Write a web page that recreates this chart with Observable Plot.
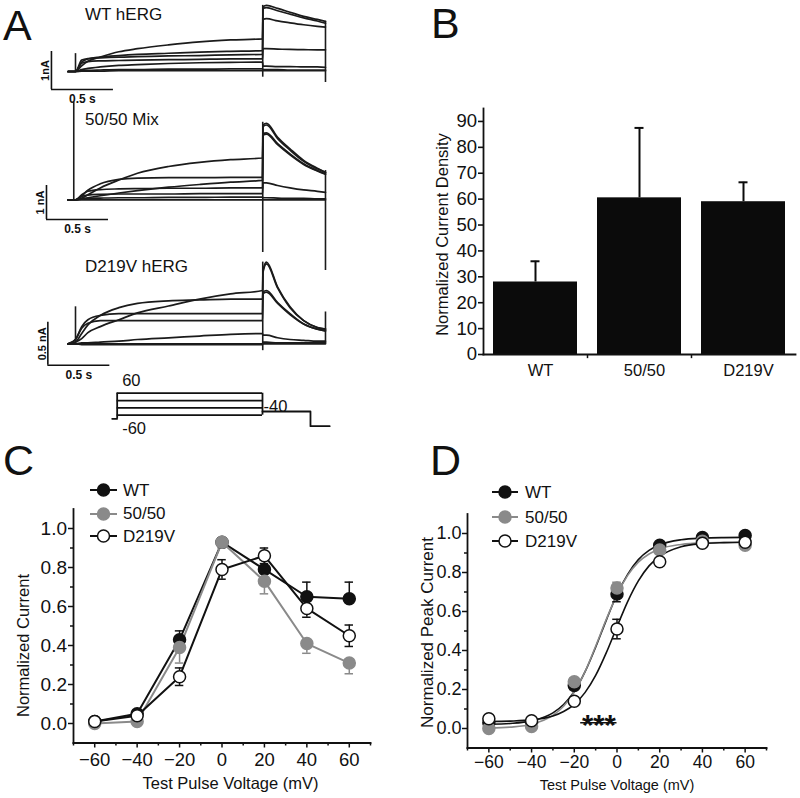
<!DOCTYPE html>
<html><head><meta charset="utf-8">
<script src="https://cdn.jsdelivr.net/npm/d3@7"></script>
<script src="https://cdn.jsdelivr.net/npm/@observablehq/plot@0.6"></script>
<style>
body{margin:0;background:#fff;}
#fig{position:relative;width:800px;height:798px;overflow:hidden;background:#fff;color:#111;font-family:"Liberation Sans",Arial,Helvetica,sans-serif;}
</style></head><body><div id="fig"></div>
<script>
// ---------------- DATA ----------------
// Panel A: current traces (time in s, current in nA)
const holdT = -0.06;
const stepT = [0, 0.05, 0.1, 0.2, 0.35, 0.5, 0.75, 1.0, 1.25, 1.508];
const tailT = [1.512, 1.54, 1.63, 1.73, 1.84, 1.95, 2.016];

const wtStep = [
  [0,0.15,0.27,0.38,0.52,0.60,0.70,0.78,0.83,0.86],
  [0,0.25,0.33,0.38,0.42,0.45,0.48,0.51,0.53,0.55],
  [0,0.30,0.34,0.36,0.38,0.39,0.41,0.42,0.44,0.45],
  [0,0.22,0.26,0.28,0.29,0.30,0.31,0.32,0.33,0.33],
  [0,0.05,0.08,0.12,0.16,0.18,0.21,0.23,0.24,0.25],
  [0,0.02,0.03,0.04,0.05,0.05,0.06,0.06,0.07,0.07],
  [0,0.01,0.01,0.01,0.02,0.02,0.02,0.02,0.02,0.02]
];
const wtTail = [
  [1.70,1.74,1.66,1.56,1.45,1.37,1.32],
  [1.66,1.68,1.60,1.51,1.41,1.33,1.27],
  [1.37,1.39,1.33,1.28,1.23,1.19,1.17],
  [0.60,0.60,0.59,0.58,0.575,0.57,0.57],
  [0.14,0.14,0.13,0.13,0.12,0.12,0.11],
  [0.05,0.05,0.05,0.04,0.04,0.04,0.04],
  [0.02,0.02,0.02,0.02,0.02,0.02,0.02]
];
const wtTrans = [{t:0, lo:0, hi:0.47}, {t:1.51, lo:-0.15, hi:1.74}, {t:2.016, lo:-0.29, hi:1.32}];
const wtBar = {t0:-0.194, i0:-0.474, dt:0.5, di:1, tLabel:"0.5 s", iLabel:"1nA"};

const mixStep = [
  [0,0.05,0.15,0.35,0.58,0.78,0.98,1.10,1.18,1.23],
  [0,0.12,0.28,0.47,0.60,0.64,0.65,0.65,0.66,0.66],
  [0,0.03,0.06,0.12,0.20,0.27,0.37,0.45,0.52,0.57],
  [0,0.15,0.25,0.30,0.32,0.33,0.34,0.34,0.35,0.35],
  [0,0.10,0.14,0.16,0.17,0.17,0.17,0.18,0.18,0.18],
  [0,0.02,0.04,0.05,0.06,0.06,0.07,0.07,0.08,0.08],
  [0,0,0,0,0,0,0,0,0,0]
];
const mixTail = [
  [2.20,2.25,1.84,1.50,1.16,0.93,0.81],
  [1.95,1.97,1.65,1.35,1.06,0.86,0.76],
  [2.15,2.20,1.80,1.46,1.13,0.91,0.80],
  [1.90,1.93,1.62,1.32,1.04,0.85,0.75],
  [0.50,0.50,0.42,0.35,0.29,0.25,0.22],
  [0.06,0.06,0.05,0.04,0.04,0.03,0.03],
  [0,0,0,0,0,0,0]
];
const mixTrans = [{t:-0.014, lo:0, hi:2.87}, {t:1.51, lo:-1.55, hi:2.28}, {t:2.016, lo:-2.08, hi:0.86}];
const mixBar = {t0:-0.234, i0:-0.58, dt:0.5, di:1, tLabel:"0.5 s", iLabel:"1 nA"};

const dvStep = [
  [0.02,0.06,0.13,0.20,0.28,0.36,0.44,0.52,0.58,0.62],
  [0.02,0.12,0.22,0.33,0.42,0.47,0.50,0.51,0.52,0.52],
  [0.05,0.20,0.28,0.33,0.35,0.35,0.35,0.35,0.35,0.35],
  [0.05,0.18,0.24,0.27,0.27,0.27,0.27,0.27,0.27,0.27],
  [0,0.01,0.01,0.02,0.03,0.05,0.07,0.09,0.11,0.12],
  [0,0,0,0,0,0,0,0,0,0],
  [0,-0.01,-0.01,-0.01,-0.01,-0.01,-0.01,-0.01,-0.01,-0.01]
];
const dvTail = [
  [0.85,0.95,0.66,0.43,0.27,0.19,0.17],
  [0.60,0.62,0.48,0.35,0.23,0.17,0.15],
  [0.83,0.93,0.65,0.42,0.27,0.19,0.17],
  [0.58,0.60,0.47,0.34,0.23,0.17,0.15],
  [0.10,0.10,0.07,0.05,0.04,0.03,0.03],
  [0.02,0.02,0.01,0.01,0.01,0.01,0.01],
  [0,0,0,0,0,0,0]
];
const dvTrans = [{t:0, lo:0, hi:0.43}, {t:1.51, lo:-0.08, hi:0.95}, {t:2.016, lo:0, hi:0.37}];
const dvBar = {t0:-0.223, i0:-0.25, dt:0.5, di:0.5, tLabel:"0.5 s", iLabel:"0.5 nA"};

// Voltage protocol (s, mV)
const protoTimes = [0.296, 0.336, 1.508, 1.895, 2.05]; // hold start, step on, step off, tail end, end
const protoLevels = [60, 20, -20, -60];
const protoHoldMV = -80, protoTailMV = -40, protoPostMV = -120;

// Panel B
const bCats = ["WT", "50/50", "D219V"];
const bMeans = [28, 60.5, 59];
const bErrs = [8, 27, 7.5];
const bTicks = [0,10,20,30,40,50,60,70,80,90];

// Panels C, D
const seriesNames = ["WT", "50/50", "D219V"];
const volts = [-60, -40, -20, 0, 20, 40, 60];
const cWT  = [0.01, 0.05, 0.43, 0.93, 0.79, 0.65, 0.64];
const cMix = [0.00, 0.01, 0.39, 0.93, 0.73, 0.41, 0.31];
const cDV  = [0.01, 0.04, 0.24, 0.79, 0.86, 0.59, 0.45];
const cWTerr  = [0.005, 0.01, 0.045, 0.02, 0.05, 0.075, 0.085];
const cMixErr = [0.005, 0.01, 0.08, 0.03, 0.065, 0.05, 0.055];
const cDVerr  = [0.01, 0.01, 0.045, 0.05, 0.04, 0.045, 0.055];
const cErrDir = ["up", "down", "both"];

const dWT  = [0.03, 0.03, 0.22, 0.69, 0.94, 0.98, 0.99];
const dMix = [0.00, 0.01, 0.24, 0.72, 0.915, 0.96, 0.94];
const dDV  = [0.05, 0.04, 0.14, 0.51, 0.855, 0.95, 0.955];
const dWTerr  = [0.01, 0.01, 0.02, 0.04, 0.01, 0.01, 0.01];
const dMixErr = [0.01, 0.01, 0.02, 0.03, 0.02, 0.01, 0.02];
const dDVerr  = [0.02, 0.01, 0.015, 0.05, 0.02, 0.02, 0.01];
const dErrDir = ["both", "both", "both"];

// Boltzmann fit curves
const fitV   = [-60,-50,-40,-30,-25,-20,-15,-10,-5,0,5,10,15,20,30,40,50,60];
const fitWT  = [0.022,0.026,0.039,0.08,0.123,0.19,0.29,0.417,0.556,0.687,0.79,0.866,0.913,0.942,0.968,0.976,0.979,0.98];
const fitMix = [0.002,0.007,0.022,0.067,0.114,0.187,0.291,0.422,0.56,0.687,0.785,0.853,0.895,0.921,0.944,0.952,0.954,0.955];
const fitDV  = [0.036,0.038,0.044,0.064,0.087,0.124,0.184,0.272,0.389,0.522,0.651,0.757,0.834,0.883,0.932,0.948,0.953,0.955];
const starAnn = [{x1:-17, x2:0, y:0.03, text:"***"}];

const xTicks = [-60,-40,-20,0,20,40,60];
const xMinor = [-70,-50,-30,-10,10,30,50,70];
const yTicks = [0,0.2,0.4,0.6,0.8,1.0];
const yMinor = [0.1,0.3,0.5,0.7,0.9];

// ---------------- STYLE / LAYOUT ----------------
const FONT = '"Liberation Sans", Arial, Helvetica, sans-serif';
const INK = "#111";
const GRAY = "#8a8a8a";
const sty = {
  "WT": {fill: INK, stroke: INK},
  "50/50": {fill: GRAY, stroke: GRAY},
  "D219V": {fill: "#fff", stroke: INK}
};
const fig = document.getElementById("fig");
function place(el, left, top) {
  el.style.position = "absolute"; el.style.left = left + "px"; el.style.top = top + "px";
  fig.appendChild(el);
}
function label(text, left, baseline, size, weight) {
  const d = document.createElement("div");
  d.textContent = text;
  d.style.font = `${weight || "normal"} ${size}px ${FONT}`;
  d.style.lineHeight = "1";
  d.style.whiteSpace = "nowrap";
  place(d, left, baseline - 0.8465 * size);
}
const baseStyle = {background: "transparent", fontFamily: FONT, overflow: "visible", color: INK};

// ---------------- PANEL A ----------------
const PX_S = 124, X0 = 75, A_LEFT = 40, A_WIDTH = 300;
function tracePlot({top, height, y0, pxNA, steps, tails, trans, bar}) {
  const xDom = [(A_LEFT - X0) / PX_S, (A_LEFT + A_WIDTH - X0) / PX_S];
  const yDom = [(y0 - top - height) / pxNA, (y0 - top) / pxNA];
  const pts = [];
  steps.forEach((s, k) => {
    pts.push({t: holdT, i: 0, k});
    stepT.forEach((t, j) => pts.push({t, i: s[j], k}));
    tailT.forEach((t, j) => pts.push({t, i: tails[k][j], k}));
  });
  const svg = Plot.plot({
    width: A_WIDTH, height, margin: 0,
    x: {domain: xDom, axis: null}, y: {domain: yDom, axis: null},
    style: baseStyle,
    marks: [
      Plot.line(pts, {x: "t", y: "i", z: "k", stroke: "#1b1b1b", strokeWidth: 1.7, curve: "monotone-x"}),
      Plot.ruleX(trans, {x: "t", y1: "lo", y2: "hi", stroke: "#1b1b1b", strokeWidth: 1.6}),
      Plot.ruleX([bar], {x: "t0", y1: "i0", y2: d => d.i0 + d.di, stroke: INK, strokeWidth: 1.6}),
      Plot.ruleY([bar], {y: "i0", x1: "t0", x2: d => d.t0 + d.dt, stroke: INK, strokeWidth: 1.6}),
      Plot.text([bar], {x: "t0", y: d => d.i0 + d.di / 2, text: "iLabel", rotate: -90, textAnchor: "middle", lineAnchor: "bottom", dx: -2, fontSize: 11, fontWeight: "bold"}),
      Plot.text([bar], {x: d => d.t0 + d.dt / 2, y: "i0", text: "tLabel", textAnchor: "middle", lineAnchor: "top", dy: 5, fontSize: 12, fontWeight: "bold"})
    ]
  });
  place(svg, A_LEFT, top);
}
tracePlot({top: 0, height: 110, y0: 71, pxNA: 38, steps: wtStep, tails: wtTail, trans: wtTrans, bar: wtBar});
tracePlot({top: 100, height: 180, y0: 199.3, pxNA: 34, steps: mixStep, tails: mixTail, trans: mixTrans, bar: mixBar});
tracePlot({top: 230, height: 150, y0: 343.3, pxNA: 86, steps: dvStep, tails: dvTail, trans: dvTrans, bar: dvBar});

label("WT hERG", 85, 20, 17);
label("50/50 Mix", 85, 125, 17);
label("D219V hERG", 85, 272, 17);

// protocol
{
  const top = 370, height = 70, y0 = 403.7, pxMV = 0.183;
  const [tHold, tOn, tOff, tTailEnd, tEnd] = protoTimes;
  const xDom = [(A_LEFT - X0) / PX_S, (A_LEFT + A_WIDTH - X0) / PX_S];
  const yDom = [(y0 - top - height) / pxMV, (y0 - top) / pxMV];
  const tailPath = [
    {t: tOff, v: protoTailMV}, {t: tTailEnd, v: protoTailMV},
    {t: tTailEnd, v: protoPostMV}, {t: tEnd, v: protoPostMV}
  ];
  const holdPath = [{t: tHold, v: protoHoldMV}, {t: tOn, v: protoHoldMV}];
  const svg = Plot.plot({
    width: A_WIDTH, height, margin: 0,
    x: {domain: xDom, axis: null}, y: {domain: yDom, axis: null},
    style: baseStyle,
    marks: [
      Plot.ruleY(protoLevels, {y: d => d, x1: tOn, x2: tOff, stroke: INK, strokeWidth: 1.8}),
      Plot.ruleX([tOn], {y1: protoHoldMV, y2: d3.max(protoLevels), stroke: INK, strokeWidth: 1.8}),
      Plot.ruleX([tOff], {y1: d3.min(protoLevels), y2: d3.max(protoLevels), stroke: INK, strokeWidth: 1.8}),
      Plot.line(holdPath, {x: "t", y: "v", stroke: INK, strokeWidth: 1.8}),
      Plot.line(tailPath, {x: "t", y: "v", stroke: INK, strokeWidth: 1.8}),
      Plot.text([String(d3.max(protoLevels))], {x: tOn, y: d3.max(protoLevels), text: d => d, textAnchor: "start", lineAnchor: "bottom", dx: 5, dy: -7.5, fontSize: 16.5}),
      Plot.text([String(d3.min(protoLevels))], {x: tOn, y: d3.min(protoLevels), text: d => d, textAnchor: "start", lineAnchor: "bottom", dx: 5, dy: 18.5, fontSize: 16.5}),
      Plot.text([String(protoTailMV)], {x: tOff, y: protoTailMV, text: d => d, textAnchor: "start", lineAnchor: "bottom", dx: 1, dy: 0, fontSize: 16.5})
    ]
  });
  place(svg, A_LEFT, top);
}

// ---------------- PANEL B ----------------
{
  const data = bCats.map((cat, i) => ({cat, mean: bMeans[i], err: bErrs[i]}));
  const svg = Plot.plot({
    width: 400, height: 300, marginLeft: 83, marginRight: 5, marginTop: 18, marginBottom: 36,
    x: {domain: bCats, paddingInner: 0.19, paddingOuter: 0.095},
    y: {domain: [0, 95]},
    style: baseStyle,
    marks: [
      Plot.barY(data, {x: "cat", y: "mean", fill: "#0b0b0b"}),
      Plot.ruleX(data, {x: "cat", y1: "mean", y2: d => d.mean + d.err, stroke: "#0b0b0b", strokeWidth: 2}),
      Plot.tickY(data, {x: "cat", y: d => d.mean + d.err, insetLeft: 37.5, insetRight: 37.5, stroke: "#0b0b0b", strokeWidth: 2}),
      Plot.axisY({ticks: bTicks, tickSize: 5, tickPadding: 1.5, fontSize: 18.5, label: null, strokeWidth: 1.6}),
      Plot.axisX({tickSize: 0, tickPadding: 10, fontSize: 16.5, label: null, dx: 5}),
      Plot.ruleX(bCats.slice(0, 2), {x: d => d, y1: 0, y2: -1.6, dx: 52, stroke: INK, strokeWidth: 1.5}),
      Plot.frame({anchor: "left", stroke: INK, strokeWidth: 1.8}),
      Plot.frame({anchor: "bottom", stroke: INK, strokeWidth: 1.8}),
      Plot.text(["Normalized Current Density"], {frameAnchor: "left", text: d => d, rotate: -90, textAnchor: "middle", lineAnchor: "middle", dx: -41, dy: 3, fontSize: 16.5})
    ]
  });
  place(svg, 400, 90);
}

// ---------------- PANELS C, D ----------------
function tidy(ys, errs, dirs) {
  return seriesNames.flatMap((name, s) => volts.map((v, j) => {
    const y = ys[s][j], e = errs[s][j], dir = dirs[s];
    return {name, v, y, lo: dir === "up" ? y : y - e, hi: dir === "down" ? y : y + e, dir};
  }));
}
function seriesMarks(rows, withLines, cap) {
  const m = [];
  if (withLines) for (const n of seriesNames)
    m.push(Plot.line(rows.filter(d => d.name === n), {x: "v", y: "y", stroke: sty[n].stroke, strokeWidth: 2}));
  for (const n of seriesNames) {
    const r = rows.filter(d => d.name === n);
    const c = n === "D219V" ? INK : sty[n].stroke;
    m.push(Plot.ruleX(r, {x: "v", y1: "lo", y2: "hi", stroke: c, strokeWidth: 1.5}));
    m.push(Plot.ruleY(r.filter(d => d.dir !== "down"), {y: "hi", x1: d => d.v - cap, x2: d => d.v + cap, stroke: c, strokeWidth: 1.5}));
    m.push(Plot.ruleY(r.filter(d => d.dir !== "up"), {y: "lo", x1: d => d.v - cap, x2: d => d.v + cap, stroke: c, strokeWidth: 1.5}));
  }
  for (const n of seriesNames)
    m.push(Plot.dot(rows.filter(d => d.name === n), {x: "v", y: "y", r: 6, fill: sty[n].fill, stroke: sty[n].stroke, strokeWidth: 1.5}));
  return m;
}
function axes(xFont, yFont, xPad, yPad) {
  return [
    Plot.axisX({ticks: xMinor, tickSize: 3, tickFormat: () => "", label: null, strokeWidth: 1.5}),
    Plot.axisX({ticks: xTicks, tickSize: 5, tickPadding: xPad, fontSize: xFont, label: null, strokeWidth: 1.5}),
    Plot.axisY({ticks: yMinor, tickSize: 3, tickFormat: () => "", label: null, strokeWidth: 1.5}),
    Plot.axisY({ticks: yTicks, tickSize: 5, tickPadding: yPad, tickFormat: d3.format(".1f"), fontSize: yFont, label: null, strokeWidth: 1.5}),
    Plot.frame({anchor: "left", stroke: INK, strokeWidth: 1.8}),
    Plot.frame({anchor: "bottom", stroke: INK, strokeWidth: 1.8})
  ];
}
function legend(rowsY, swLeft, swWidth, textLeft, fontSize) {
  seriesNames.forEach((n, i) => {
    const y = rowsY[i];
    const svg = d3.create("svg").attr("width", swWidth + 4).attr("height", 16);
    svg.append("line").attr("x1", 2).attr("x2", swWidth + 2).attr("y1", 8).attr("y2", 8)
      .attr("stroke", sty[n].stroke).attr("stroke-width", 2);
    svg.append("circle").attr("cx", swWidth / 2 + 2).attr("cy", 8).attr("r", 6)
      .attr("fill", sty[n].fill).attr("stroke", sty[n].stroke).attr("stroke-width", 1.5);
    place(svg.node(), swLeft - 2, y - 8);
    label(n, textLeft, y + 0.358 * fontSize, fontSize);
  });
}

// C
{
  const rows = tidy([cWT, cMix, cDV], [cWTerr, cMixErr, cDVerr], cErrDir);
  const svg = Plot.plot({
    width: 400, height: 318, marginLeft: 73, marginRight: 30, marginTop: 28.5, marginBottom: 55.5,
    x: {domain: [-70, 70]}, y: {domain: [-0.1, 1.1]},
    style: baseStyle,
    marks: [
      ...axes(18.5, 19, 5, 1.5),
      ...seriesMarks(rows, true, 2),
      Plot.text(["Test Pulse Voltage (mV)"], {frameAnchor: "bottom", text: d => d, textAnchor: "middle", lineAnchor: "middle", dx: 8.5, dy: 40.5, fontSize: 16.5}),
      Plot.text(["Normalized Current"], {frameAnchor: "left", text: d => d, rotate: -90, textAnchor: "middle", lineAnchor: "middle", dx: -50, dy: 19.5, fontSize: 16.5})
    ]
  });
  place(svg, 0, 480);
  legend([490, 513.5, 536], 90, 27, 123, 17);
}

// D
{
  const rows = tidy([dWT, dMix, dDV], [dWTerr, dMixErr, dDVerr], dErrDir);
  const fits = [fitWT, fitMix, fitDV].flatMap((f, s) => fitV.map((v, j) => ({name: seriesNames[s], v, y: f[j]})));
  const svg = Plot.plot({
    width: 400, height: 318, marginLeft: 67, marginRight: 34, marginTop: 33.5, marginBottom: 50.5,
    x: {domain: [-70, 70]}, y: {domain: [-0.1, 1.1]},
    style: baseStyle,
    marks: [
      ...axes(17.5, 18, 3, 1),
      ...seriesNames.map(n => Plot.line(fits.filter(d => d.name === n), {x: "v", y: "y", stroke: sty[n].stroke, strokeWidth: 1.6, curve: "monotone-x"})),
      ...seriesMarks(rows, false, 2),
      Plot.ruleY(starAnn, {y: "y", x1: "x1", x2: "x2", stroke: INK, strokeWidth: 1.5}),
      Plot.text(starAnn, {x: d => (d.x1 + d.x2) / 2, y: "y", text: "text", textAnchor: "middle", lineAnchor: "bottom", dy: 12, fontSize: 29, fontWeight: "bold"}),
      Plot.text(["Test Pulse Voltage (mV)"], {frameAnchor: "bottom", text: d => d, textAnchor: "middle", lineAnchor: "middle", dy: 37.5, fontSize: 14.5}),
      Plot.text(["Normalized Peak Current"], {frameAnchor: "left", text: d => d, rotate: -90, textAnchor: "middle", lineAnchor: "middle", dx: -40, dy: 1.5, fontSize: 17})
    ]
  });
  place(svg, 400, 480);
  legend([492, 517, 541], 492, 26, 525, 17);
}

// panel letters
label("A", 3, 40.8, 43);
label("B", 431, 38.8, 43);
label("C", 3, 475, 43);
label("D", 430, 475, 43);
</script></body></html>
